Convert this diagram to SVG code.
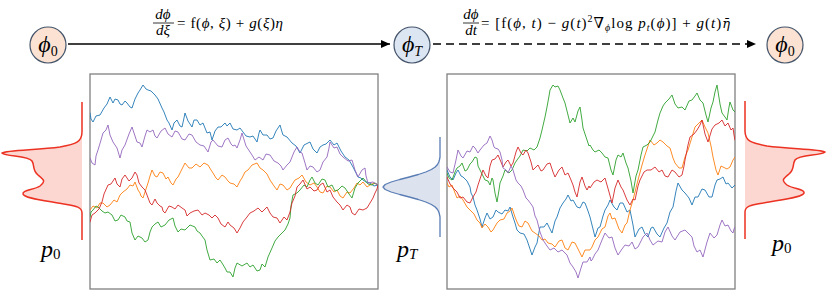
<svg xmlns="http://www.w3.org/2000/svg" xmlns:xlink="http://www.w3.org/1999/xlink" width="830" height="306" viewBox="0 0 830 306">
<style>
.frame{fill:#fff;stroke:#808080;stroke-width:1.3}
.w{fill:none;stroke-width:0.9;stroke-linejoin:round;stroke-linecap:round}
.b{stroke:#1f77b4}.o{stroke:#ff7f0e}.g{stroke:#2ca02c}.r{stroke:#d62728}.p{stroke:#9467bd}
.node circle{stroke:#44546a;stroke-width:1.2}
.warm{fill:#fbe2d3}.cool{fill:#dce5f2}
.lab{font-family:"Liberation Serif","DejaVu Serif",serif;font-size:24px;fill:#000}
.eq{font-family:"Liberation Serif","DejaVu Serif",serif;font-size:15px;fill:#000}
.i{font-style:italic}
.sm{font-size:10px}
.conn{stroke:#000;stroke-width:1.6;fill:none}
</style>
<defs>
<marker id="ah" markerUnits="userSpaceOnUse" markerWidth="9" markerHeight="8" refX="9" refY="4" orient="auto">
<path d="M0,0 L9,4 L0,8 Z" fill="#000"/>
</marker>
<clipPath id="cl"><rect x="90" y="74" width="288" height="215"/></clipPath>
<clipPath id="cr"><rect x="447" y="74" width="288" height="215"/></clipPath>
<g id="p0dist">
<path d="M82,132 C82,142 76,144 60,147 C38,150 6,150 2,153 C6,157 28,155 32,161 C35,166 32,170 38,175 C44,180 46,181 40,186 C34,190 22,190 23,194 C24,198 40,200 58,203 C74,206 82,206 82,213 Z" fill="#fcd6d0"/>
<path d="M82,102 V132 C82,142 76,144 60,147 C38,150 6,150 2,153 C6,157 28,155 32,161 C35,166 32,170 38,175 C44,180 46,181 40,186 C34,190 22,190 23,194 C24,198 40,200 58,203 C74,206 82,206 82,213 V240" fill="none" stroke="#ec3222" stroke-width="1.5"/>
</g>
</defs>

<rect width="830" height="306" fill="#fff"/>

<!-- distributions -->
<g id="dist-p0-left"><use xlink:href="#p0dist"/></g>
<g id="dist-p0-right"><use xlink:href="#p0dist" transform="matrix(-1 0 0 1 827 -1)"/></g>
<g id="dist-pT">
<path d="M440,157 L439.8,157 L439.5,159.5 L438.8,162 L437.5,164.5 L435.2,167 L431.4,169.5 L425.8,172 L418.3,174.5 L409.3,177 L399.7,179.5 L391.1,182 L385.2,184.5 L383,187 L385.2,189.5 L391.1,192 L399.7,194.5 L409.3,197 L418.3,199.5 L425.8,202 L431.4,204.5 L435.2,207 L437.5,209.5 L438.8,212 L439.5,214.5 L440,217 Z" fill="#dce3ee"/>
<path d="M440,137 V157 L439.5,159.5 L438.8,162 L437.5,164.5 L435.2,167 L431.4,169.5 L425.8,172 L418.3,174.5 L409.3,177 L399.7,179.5 L391.1,182 L385.2,184.5 L383,187 L385.2,189.5 L391.1,192 L399.7,194.5 L409.3,197 L418.3,199.5 L425.8,202 L431.4,204.5 L435.2,207 L437.5,209.5 L438.8,212 L439.5,214.5 L440,217 V237" fill="none" stroke="#5a7db5" stroke-width="1.3" stroke-linejoin="round"/>
</g>

<!-- left panel -->
<g id="panel-forward">
<rect class="frame" x="90" y="74" width="288" height="215"/>
<g clip-path="url(#cl)">
<polyline class="w b" points="90,113 91,119 93,122 96,116 100,115 104,108 107,104 110,97 112,101 113,103 115,99 118,100 120,104 122,105 125,101 127,103 130,107 132,108 135,99 138,93 140,90 143,85 146,89 148,90 151,91 155,95 158,99 162,108 164,112 167,120 169,123 172,130 174,123 177,120 180,126 182,127 184,118 185,113 188,121 192,127 194,120 197,120 200,125 203,123 207,133 210,132 212,140 215,131 218,127 221,127 225,123 227,126 230,123 233,129 237,130 240,128 243,132 246,136 250,137 253,136 257,142 259,133 260,130 263,135 267,135 270,139 273,138 276,131 280,125 282,132 283,135 287,137 292,143 296,146 300,153 304,145 310,142 313,149 317,153 320,147 323,145 326,144 330,140 334,145 337,143 341,151 345,157 349,160 353,167 355,171 358,177 361,178 363,180 366,182 370,183 374,186 378,185"/>
<polyline class="w o" points="90,210 93,206 97,208 100,203 103,203 107,207 110,205 114,200 117,202 120,195 123,192 127,189 130,185 133,186 135,182 138,190 140,193 141,196 143,198 146,189 148,183 150,176 152,170 155,176 157,177 160,172 163,173 166,179 168,177 171,183 173,185 176,179 178,177 182,169 185,163 189,168 192,168 196,164 200,167 204,163 208,165 211,170 213,173 216,178 218,180 222,175 225,177 228,181 230,183 234,184 237,187 240,181 242,178 245,172 248,170 252,165 257,163 260,168 263,170 267,174 270,180 274,186 277,190 280,184 283,185 287,190 290,188 293,183 295,180 299,178 302,175 306,182 310,185 314,183 317,187 320,192 323,193 327,186 330,187 334,192 337,190 340,196 343,198 347,192 350,193 354,188 357,183 360,185 363,182 367,187 370,185 374,183 378,185"/>
<polyline class="w g" points="90,217 91,212 93,210 96,206 98,207 102,211 105,213 108,212 112,215 115,221 118,220 121,215 125,217 127,221 130,222 132,233 135,240 138,236 142,238 145,242 148,240 150,232 152,227 155,224 158,222 161,227 165,225 169,220 173,218 175,226 178,232 181,229 185,230 190,225 195,227 197,231 200,233 202,236 205,240 207,250 210,260 214,259 217,263 220,260 222,263 225,268 227,272 230,272 233,277 235,268 237,263 242,266 247,263 250,267 253,265 257,271 260,270 262,264 265,267 268,257 272,248 275,241 278,237 282,233 285,230 288,224 290,218 291,206 293,195 297,193 300,190 304,185 307,187 310,180 312,177 315,183 318,185 322,179 325,180 328,187 332,185 335,191 338,190 342,186 345,188 349,194 352,198 355,188 358,183 360,181 363,178 368,184 372,185 375,183 378,185"/>
<polyline class="w r" points="90,222 92,215 95,213 99,209 102,202 104,194 108,185 111,184 115,178 117,184 120,187 122,179 125,175 129,181 132,178 135,172 137,175 139,183 142,187 145,190 147,195 150,203 152,205 155,199 157,203 160,206 162,207 163,211 165,213 169,206 172,207 175,209 178,205 182,208 185,210 187,216 190,213 194,211 198,210 202,215 205,213 209,215 212,218 215,215 218,218 221,224 225,227 228,222 230,225 234,228 237,233 240,228 243,222 247,217 250,213 254,211 258,208 262,212 267,207 270,213 273,217 277,218 280,223 284,217 287,220 290,212 292,203 295,196 297,187 300,184 303,180 307,189 310,187 314,191 317,190 320,185 323,183 327,192 330,190 333,197 337,202 340,205 343,210 347,205 350,207 352,213 355,215 359,209 363,210 367,208 370,203 373,198 375,193 377,189 378,185"/>
<polyline class="w p" points="90,158 92,163 95,165 96,156 98,150 101,140 103,133 106,130 108,125 110,135 113,142 117,148 120,158 122,150 125,145 129,134 132,127 135,136 137,142 140,143 142,147 145,136 147,130 150,132 153,130 155,136 157,138 161,131 165,128 168,134 172,137 175,131 178,132 182,139 185,140 189,134 192,135 196,142 200,145 204,146 208,152 211,142 213,140 218,146 222,147 225,140 228,138 231,144 233,146 235,145 237,148 240,140 242,133 246,146 250,152 252,155 255,160 259,157 263,160 266,154 270,155 274,161 278,163 281,166 283,170 287,165 290,162 294,152 297,147 300,152 302,153 305,163 307,170 310,166 313,167 317,172 320,170 323,162 327,157 329,148 330,142 334,148 337,147 340,154 343,157 348,161 352,160 355,170 358,177 362,170 365,168 366,176 368,183 373,182 378,185"/>
</g>
</g>

<!-- right panel -->
<g id="panel-reverse">
<rect class="frame" x="447" y="74" width="288" height="215"/>
<g clip-path="url(#cr)">
<polyline class="w b" points="447,170 450,177 453,180 456,173 458,170 461,176 463,177 467,181 470,187 471,193 473,197 475,205 477,210 480,219 482,227 485,218 487,213 490,219 493,217 496,210 498,212 502,214 505,210 508,211 510,207 513,217 515,223 517,230 520,233 524,234 527,240 530,249 532,255 535,247 537,243 539,232 540,227 544,227 547,223 550,229 552,233 555,221 557,217 560,208 563,203 566,199 568,195 571,201 573,200 577,207 580,208 583,202 585,203 588,211 590,217 593,229 595,237 598,228 600,227 603,216 605,210 608,205 610,200 614,207 617,210 620,203 623,203 627,212 630,210 633,225 635,237 639,229 642,227 645,234 648,237 651,228 653,227 657,234 660,237 664,228 667,223 670,212 673,207 676,191 678,183 682,190 685,193 689,198 692,205 695,197 698,197 702,189 705,190 709,197 712,197 715,185 717,180 720,179 723,177 726,184 728,183 732,188 735,185"/>
<polyline class="w o" points="447,183 449,187 452,185 455,193 457,198 460,196 463,200 467,207 470,210 474,214 477,220 480,223 482,228 485,224 488,227 491,232 493,230 497,223 500,220 504,219 507,213 510,211 512,208 515,217 517,222 519,226 522,227 525,221 528,223 532,231 535,233 539,236 542,240 545,239 548,243 552,244 555,247 559,241 562,240 565,248 568,250 572,242 575,243 579,251 582,257 585,250 587,250 590,250 592,247 595,240 598,237 602,229 605,227 608,216 610,213 612,219 615,218 619,229 622,233 625,225 627,223 630,210 633,200 636,188 638,180 642,165 645,155 648,146 650,140 654,145 657,143 660,140 663,142 667,146 670,148 673,158 675,163 679,168 682,168 685,157 688,150 692,137 695,127 699,123 702,120 705,127 708,133 711,146 713,157 716,170 718,175 721,166 723,167 727,169 730,167 733,160 735,157"/>
<polyline class="w g" points="447,173 449,178 452,180 455,172 457,168 460,166 462,163 465,171 467,170 470,164 472,162 475,157 477,158 478,166 480,170 483,176 485,180 488,181 490,185 492,178 493,180 495,193 497,202 499,190 500,183 503,176 505,170 509,173 512,170 515,163 517,160 520,156 523,150 527,151 530,148 534,150 537,147 540,138 542,130 545,117 547,107 549,96 550,90 553,85 555,87 558,86 560,90 563,98 565,103 568,115 570,123 573,118 575,122 578,111 580,107 582,120 583,128 585,134 587,140 589,146 590,145 593,150 595,152 599,150 602,153 605,157 608,158 611,170 613,175 616,160 618,155 621,157 623,153 626,163 628,168 631,181 633,193 636,176 638,170 641,155 643,147 647,145 650,142 653,136 655,132 658,120 660,113 663,106 665,103 669,99 672,95 675,104 678,108 682,107 685,110 689,101 692,100 695,96 697,93 700,100 703,103 706,115 708,122 711,108 713,102 715,92 717,85 720,104 722,113 725,117 727,120 729,107 730,102 733,110 735,112"/>
<polyline class="w r" points="447,177 450,184 453,188 457,192 460,198 463,197 467,202 470,203 473,197 476,192 478,185 481,176 483,170 486,176 488,178 490,166 492,160 495,159 498,155 501,162 503,167 506,162 508,160 511,166 513,163 516,152 518,147 521,153 523,155 526,150 528,153 531,162 533,170 536,167 538,165 541,171 543,170 547,164 550,163 553,172 555,177 559,170 562,167 565,175 568,173 571,180 573,185 575,192 577,197 580,182 582,177 585,186 587,190 589,186 590,188 594,182 597,180 601,182 605,178 609,192 612,203 615,188 618,180 621,187 623,190 627,200 630,205 633,199 635,200 638,186 640,180 644,172 647,170 651,170 655,167 659,172 662,170 665,176 668,177 672,170 675,172 679,177 682,175 684,166 685,160 688,145 690,137 694,134 697,130 700,125 702,120 705,134 708,142 712,129 715,125 719,123 722,120 725,126 728,123 731,130 733,128 734,135 735,140"/>
<polyline class="w p" points="447,167 450,172 453,173 456,160 458,150 461,156 463,158 467,151 470,152 473,146 475,148 478,153 480,150 484,145 487,143 490,136 492,140 494,147 495,148 498,149 500,152 502,160 503,168 506,170 508,173 511,166 513,170 516,180 518,183 521,186 523,190 526,198 528,200 531,204 533,207 535,216 537,220 540,232 543,240 547,246 550,250 554,248 558,252 562,250 567,255 570,263 573,267 576,272 578,278 581,268 583,262 587,262 590,257 591,261 592,260 595,254 598,250 602,240 605,233 609,238 612,237 615,248 618,255 622,249 625,245 629,246 632,242 635,249 638,247 643,237 647,233 650,240 653,245 658,241 662,242 665,232 668,227 672,236 675,240 680,232 685,230 689,234 692,237 694,246 697,252 700,250 703,257 707,242 710,233 714,238 717,235 720,225 722,220 725,226 728,225 731,231 733,233 734,229 735,227"/>
</g>
</g>

<!-- distribution labels -->
<text class="lab" x="41" y="257"><tspan class="i">p</tspan><tspan font-size="15" dy="2">0</tspan></text>
<text class="lab" x="397" y="257"><tspan class="i">p</tspan><tspan class="i" font-size="15" dy="2">T</tspan></text>
<text class="lab" x="772" y="251"><tspan class="i">p</tspan><tspan font-size="15" dy="2">0</tspan></text>

<!-- connectors -->
<g id="connectors">
<line class="conn" x1="68" y1="44" x2="390" y2="44" marker-end="url(#ah)"/>
<line class="conn" x1="433" y1="44" x2="756" y2="44" stroke-dasharray="8 5" marker-end="url(#ah)"/>
</g>

<!-- edge labels -->
<g id="label-forward">
<text class="eq i" x="163" y="19" text-anchor="middle">dϕ</text>
<line x1="153" y1="23" x2="174" y2="23" stroke="#000" stroke-width="0.8"/>
<text class="eq i" x="163" y="35" text-anchor="middle">dξ</text>
<text class="eq" x="177" y="28" textLength="106" lengthAdjust="spacing">= f(<tspan class="i">ϕ</tspan>, <tspan class="i">ξ</tspan>) + <tspan class="i">g</tspan>(<tspan class="i">ξ</tspan>)<tspan class="i">η</tspan></text>
</g>
<g id="label-reverse">
<text class="eq i" x="471" y="19" text-anchor="middle">dϕ</text>
<line x1="463" y1="23" x2="479" y2="23" stroke="#000" stroke-width="0.8"/>
<text class="eq i" x="471" y="35" text-anchor="middle">dt</text>
<text class="eq" x="481" y="28" textLength="249" lengthAdjust="spacing">= [f(<tspan class="i">ϕ</tspan>, <tspan class="i">t</tspan>)  − <tspan class="i">g</tspan>(<tspan class="i">t</tspan>)<tspan class="sm" dy="-6">2</tspan><tspan dy="6">∇</tspan><tspan class="i sm" dy="3">ϕ</tspan><tspan dy="-3">log </tspan><tspan class="i">p</tspan><tspan class="i sm" dy="3">t</tspan><tspan dy="-3">(</tspan><tspan class="i">ϕ</tspan>)] + <tspan class="i">g</tspan>(<tspan class="i">t</tspan>)<tspan class="i" font-family="DejaVu Serif" font-size="13">η̄</tspan></text>
</g>

<!-- nodes -->
<g id="node-phi0-start" class="node">
<circle class="warm" cx="48" cy="45" r="18"/>
<text class="lab" x="48" y="52" text-anchor="middle"><tspan class="i">ϕ</tspan><tspan font-size="14" dy="4">0</tspan></text>
</g>
<g id="node-phiT" class="node">
<circle class="cool" cx="412" cy="45" r="18"/>
<text class="lab" x="412" y="52" text-anchor="middle"><tspan class="i">ϕ</tspan><tspan class="i" font-size="14" dy="4">T</tspan></text>
</g>
<g id="node-phi0-end" class="node">
<circle class="warm" cx="785" cy="45" r="18"/>
<text class="lab" x="785" y="52" text-anchor="middle"><tspan class="i">ϕ</tspan><tspan font-size="14" dy="4">0</tspan></text>
</g>
</svg>
